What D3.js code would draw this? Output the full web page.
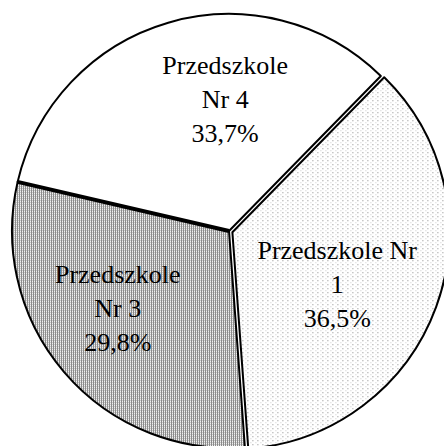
<!DOCTYPE html>
<html>
<head>
<meta charset="utf-8">
<script src="https://cdn.jsdelivr.net/npm/d3@7"></script>
<style>
  html, body { margin: 0; padding: 0; background: #fff; }
  svg { display: block; }
  text.lab { font-family: "Liberation Serif", "DejaVu Serif", serif; }
</style>
</head>
<body>
<svg id="chart" width="444" height="446"></svg>
<script>
// slices, clockwise from the Nr4/Nr1 edge
const names = ["Przedszkole Nr 1", "Przedszkole Nr 3", "Przedszkole Nr 4"];
const shares = [36.5, 29.8, 33.7];
const labelLines = [
  ["Przedszkole Nr", "1", "36,5%"],
  ["Przedszkole", "Nr 3", "29,8%"],
  ["Przedszkole", "Nr 4", "33,7%"]
];

const W = 444, H = 446;
const cx = 229, cy = 231, R = 217;
const startDeg = 44.4;

const svg = d3.select("#chart");
const defs = svg.append("defs");

// sparse stipple for Nr 1
const p1 = defs.append("pattern")
  .attr("id", "dots").attr("patternUnits", "userSpaceOnUse")
  .attr("width", 5).attr("height", 4);
p1.append("rect").attr("width", 5).attr("height", 4).attr("fill", "#fff");
p1.append("rect").attr("x", 0).attr("y", 0).attr("width", 1).attr("height", 1).attr("fill", "#888");
p1.append("rect").attr("x", 3).attr("y", 2).attr("width", 1).attr("height", 1).attr("fill", "#ccc");

// vertical screen for Nr 3
const p3 = defs.append("pattern")
  .attr("id", "screen").attr("patternUnits", "userSpaceOnUse")
  .attr("width", 2).attr("height", 2);
p3.append("rect").attr("width", 2).attr("height", 2).attr("fill", "#f0f0f0");
p3.append("rect").attr("x", 0).attr("width", 1).attr("height", 2).attr("fill", "#8c8c8c");
p3.append("rect").attr("x", 1).attr("y", 1).attr("width", 1).attr("height", 1).attr("fill", "#c8c8c8");

const fills = ["url(#dots)", "url(#screen)", "#fff"];

const pie = d3.pie().sort(null).value(d => d)
  .startAngle(startDeg * Math.PI / 180)
  .endAngle(startDeg * Math.PI / 180 + 2 * Math.PI);
const arcs = pie(shares);

const arc = d3.arc().innerRadius(0).outerRadius(R);
const labelArc = d3.arc().innerRadius(128).outerRadius(128);

// Nr 1 is pulled out a little, which gives the double edges
const explode = [3.6, 0, 0];
// small label nudges relative to the centroid
const nudge = [[-12, 9], [-14, -6], [32, -9]];

const g = svg.append("g").attr("transform", `translate(${cx},${cy})`);

const slice = g.selectAll("g.slice").data(arcs).join("g")
  .attr("class", "slice")
  .attr("transform", (d, i) => {
    const a = (d.startAngle + d.endAngle) / 2;
    return `translate(${explode[i] * Math.sin(a)},${-explode[i] * Math.cos(a)})`;
  });

slice.append("path")
  .attr("d", arc)
  .attr("fill", (d, i) => fills[i])
  .attr("stroke", "#000")
  .attr("stroke-width", 2)
  .attr("stroke-linejoin", "round");

// heavy edge between Nr 3 and Nr 4
const edgeA = arcs[2].startAngle;
g.append("line")
  .attr("x1", 0).attr("y1", 0)
  .attr("x2", R * Math.sin(edgeA)).attr("y2", -R * Math.cos(edgeA))
  .attr("stroke", "#000").attr("stroke-width", 4);

// labels
const lab = g.selectAll("text.lab").data(arcs).join("text")
  .attr("class", "lab")
  .attr("font-size", 26)
  .attr("fill", "#000")
  .attr("text-anchor", "middle")
  .attr("transform", (d, i) => {
    const c = labelArc.centroid(d);
    return `translate(${c[0] + nudge[i][0]},${c[1] + nudge[i][1]})`;
  });

lab.each(function(d, i) {
  const t = d3.select(this);
  const lines = labelLines[i];
  lines.forEach((s, k) => {
    t.append("tspan")
      .attr("x", 0)
      .attr("y", (k - (lines.length - 1) / 2) * 34 + 9)
      .text(s);
  });
});
</script>
</body>
</html>
